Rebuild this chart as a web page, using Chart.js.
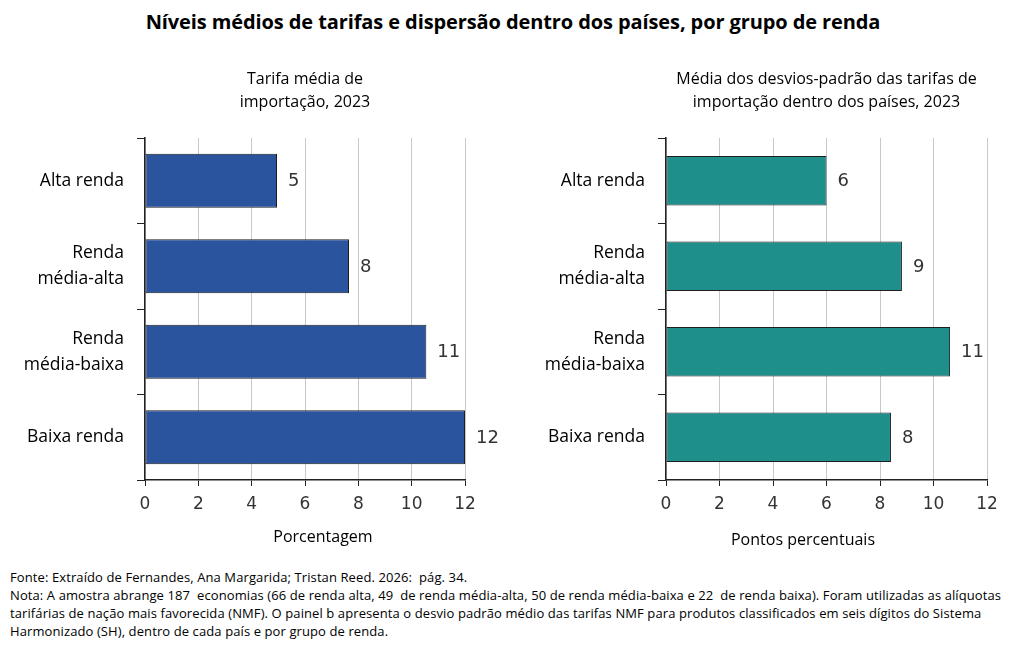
<!DOCTYPE html>
<html>
<head>
<meta charset="utf-8">
<script src="https://cdn.jsdelivr.net/npm/chart.js@4"></script>
<style>
  html, body { margin:0; padding:0; background:#fff; }
  body { width:1026px; height:649px; position:relative; overflow:hidden; font-family:"Open Sans", sans-serif; color:#000; }
  #title { position:absolute; left:0; width:1026px; top:7px; text-align:center; font-family:"Open Sans", sans-serif; font-weight:700; font-size:20px; line-height:30px; letter-spacing:-0.1px; }
  .cw { position:absolute; }
  .axt { position:absolute; font-family:"Open Sans", sans-serif; font-size:16px; line-height:20px; text-align:center; color:#000; }
  #notes { position:absolute; left:10px; top:568px; font-family:"Open Sans", sans-serif; font-size:13px; line-height:18px; white-space:pre; color:#000; letter-spacing:0.1px; }
</style>
</head>
<body>
<div id="title">Níveis médios de tarifas e dispersão dentro dos países, por grupo de renda</div>
<div class="cw" style="left:0;top:60px;width:510px;height:470px;"><canvas id="c1"></canvas></div>
<div class="cw" style="left:510px;top:60px;width:516px;height:470px;"><canvas id="c2"></canvas></div>
<div class="axt" style="left:223px;width:200px;top:526px;">Porcentagem</div>
<div class="axt" style="left:683px;width:240px;top:529px;">Pontos percentuais</div>
<div id="notes"></div>
<script>
const categories = [["Alta renda"], ["Renda", "média-alta"], ["Renda", "média-baixa"], ["Baixa renda"]];
const tariffValues = [4.95, 7.65, 10.55, 12.0];
const dispersionValues = [6.0, 8.82, 10.62, 8.41];
const xTicks = [0, 2, 4, 6, 8, 10, 12];
const leftSubtitle = ["Tarifa média de", "importação, 2023"];
const rightSubtitle = ["Média dos desvios-padrão das tarifas de", "importação dentro dos países, 2023"];
const noteLines = [
  "Fonte: Extraído de Fernandes, Ana Margarida; Tristan Reed. 2026:  pág. 34.",
  "Nota: A amostra abrange 187  economias (66 de renda alta, 49  de renda média-alta, 50 de renda média-baixa e 22  de renda baixa). Foram utilizadas as alíquotas",
  "tarifárias de nação mais favorecida (NMF). O painel b apresenta o desvio padrão médio das tarifas NMF para produtos classificados em seis dígitos do Sistema",
  "Harmonizado (SH), dentro de cada país e por grupo de renda."
];
document.getElementById('notes').textContent = noteLines.join("\n");

const valueLabels = {
  id: 'valueLabels',
  afterDatasetsDraw(chart) {
    const ctx = chart.ctx;
    ctx.save();
    ctx.font = '18px "DejaVu Sans", Verdana, sans-serif';
    ctx.fillStyle = '#333333';
    ctx.textAlign = 'left';
    ctx.textBaseline = 'middle';
    const meta = chart.getDatasetMeta(0);
    meta.data.forEach((bar, i) => {
      const v = chart.data.datasets[0].data[i];
      ctx.fillText(String(Math.round(v)), bar.x + 11, bar.y + 1);
    });
    ctx.restore();
  }
};

function makeChart(id, values, color, subtitle, yWidth, padRight, barPct) {
  return new Chart(document.getElementById(id), {
    type: 'bar',
    data: {
      labels: categories,
      datasets: [{
        data: values,
        backgroundColor: color,
        borderColor: '#1e1e1e',
        borderWidth: 1,
        borderSkipped: false,
        barPercentage: barPct,
        categoryPercentage: 1.0
      }]
    },
    options: {
      indexAxis: 'y',
      responsive: true,
      maintainAspectRatio: false,
      animation: false,
      devicePixelRatio: 1,
      layout: { padding: { left: 0, right: padRight, top: 0, bottom: 0 } },
      plugins: {
        legend: { display: false },
        tooltip: { enabled: false },
        title: {
          display: true,
          text: subtitle,
          fullSize: false,
          color: '#000',
          font: { family: '"Open Sans", sans-serif', size: 16, weight: 'normal', lineHeight: 1.45 },
          padding: { top: 7.4, bottom: 24.2 }
        }
      },
      scales: {
        x: {
          min: 0, max: 12,
          afterBuildTicks(scale) { scale.ticks = xTicks.map(v => ({ value: v })); },
          afterFit(scale) { scale.height = 50; },
          grid: { display: true, drawOnChartArea: true, color: '#c8c8c8', lineWidth: 1, drawTicks: true, tickLength: 6, tickColor: '#222' },
          border: { display: true, color: '#222', width: 1.5 },
          ticks: { color: '#333', padding: 8, font: { family: '"DejaVu Sans", Verdana, sans-serif', size: 17 }, maxRotation: 0 }
        },
        y: {
          afterFit(scale) { scale.width = yWidth; },
          grid: { display: true, drawOnChartArea: false, drawTicks: true, tickLength: 8, color: '#222', offset: true },
          border: { display: true, color: '#222', width: 1.5 },
          ticks: { color: '#000', padding: 13, font: { family: '"Open Sans", sans-serif', size: 17.5, lineHeight: 1.5 } }
        }
      }
    },
    plugins: [valueLabels]
  });
}

makeChart('c1', tariffValues, '#2a549e', leftSubtitle, 145, 45, 0.63);
makeChart('c2', dispersionValues, '#1f8f8c', rightSubtitle, 156, 39, 0.58);
</script>
</body>
</html>
